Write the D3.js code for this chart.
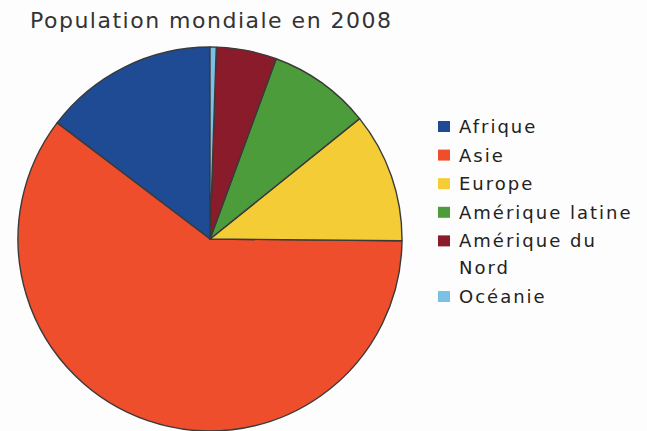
<!DOCTYPE html>
<html>
<head>
<meta charset="utf-8">
<script src="https://cdn.jsdelivr.net/npm/d3@7"></script>
<style>
  html, body { margin: 0; padding: 0; background: #fdfdfd; }
  svg { display: block; }
</style>
</head>
<body>
<svg id="chart" width="647" height="431"></svg>
<script>
// Population mondiale en 2008 (millions d'habitants)
const regions = ["Afrique", "Asie", "Europe", "Amérique latine", "Amérique du Nord", "Océanie"];
const legendLines = [["Afrique"], ["Asie"], ["Europe"], ["Amérique latine"], ["Amérique du", "Nord"], ["Océanie"]];
const population = [987, 4052, 736, 580, 342, 35];
const colors = ["#1e4b94", "#ee4e2c", "#f4cc36", "#4c9c3c", "#8a1b2b", "#7dc0e6"];

const svg = d3.select("#chart");
const cx = 210, cy = 239, radius = 192;

svg.append("text")
  .attr("x", 30).attr("y", 28)
  .attr("font-family", "DejaVu Sans")
  .attr("font-size", 22)
  .attr("letter-spacing", 1.5)
  .attr("fill", "#333")
  .text("Population mondiale en 2008");

const color = d3.scaleOrdinal().domain(regions).range(colors);

// Slices run counter-clockwise from twelve o'clock, in data order
const pie = d3.pie().sort(null).startAngle(0).endAngle(-2 * Math.PI);
const arcs = pie(population);
const arc = d3.arc().innerRadius(0).outerRadius(radius);

const g = svg.append("g").attr("transform", `translate(${cx},${cy})`);
g.selectAll("path")
  .data(arcs)
  .join("path")
  .attr("d", arc)
  .attr("fill", (d, i) => color(regions[i]))
  .attr("stroke", "#3a3a3a")
  .attr("stroke-width", 1.4)
  .attr("stroke-linejoin", "round");

// Legend
const legend = svg.append("g").attr("transform", "translate(438,133)");
let y = 0;
legendLines.forEach((lines, i) => {
  legend.append("rect")
    .attr("x", 0).attr("y", y - 12)
    .attr("width", 12).attr("height", 11)
    .attr("fill", color(regions[i]));
  lines.forEach((line, j) => {
    legend.append("text")
      .attr("x", 21).attr("y", y + j * 27)
      .attr("font-family", "DejaVu Sans")
      .attr("font-size", 18)
      .attr("letter-spacing", 2)
      .attr("fill", "#222")
      .text(line);
  });
  y += 28.6 + (lines.length - 1) * 27;
});
</script>
</body>
</html>
